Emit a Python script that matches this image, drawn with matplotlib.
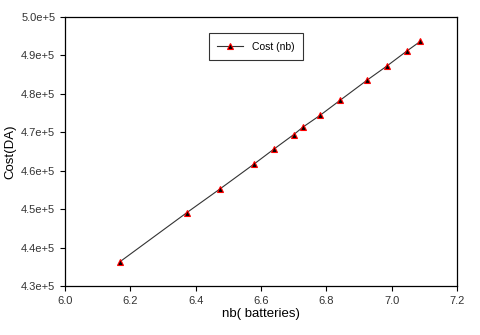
import matplotlib
matplotlib.use("Agg")
import matplotlib.pyplot as plt
from matplotlib.ticker import FuncFormatter

# values
nb = [6.168, 6.373, 6.475, 6.578, 6.639, 6.700, 6.729, 6.782, 6.843, 6.925, 6.986, 7.047, 7.088]
cost = [436300, 449100, 455300, 461700, 465600, 469400, 471400, 474500, 478400, 483600, 487300, 491200, 493700]

xticks = [6.0, 6.2, 6.4, 6.6, 6.8, 7.0, 7.2]
yticks = [430000, 440000, 450000, 460000, 470000, 480000, 490000, 500000]

plt.rcParams["font.family"] = ["Liberation Sans", "DejaVu Sans"]

fig = plt.figure(figsize=(4.8, 3.35), dpi=100)
ax = fig.add_axes([0.1354, 0.1463, 0.8167, 0.8027])

ax.plot(nb, cost, color="#333333", lw=0.8, marker="^", markersize=5,
        markerfacecolor="black", markeredgecolor="red", markeredgewidth=0.8,
        label="Cost (nb)")

ax.set_xlim(6.0, 7.2)
ax.set_ylim(430000, 500000)
ax.set_xticks(xticks)
ax.set_yticks(yticks)
ax.xaxis.set_major_formatter(FuncFormatter(lambda v, p: f"{v:.1f}"))
ax.yaxis.set_major_formatter(FuncFormatter(lambda v, p: f"{v / 1e5:.1f}e+5"))
ax.tick_params(direction="out", length=3.5, width=0.8, labelsize=8,
               colors="black", labelcolor="#333333", top=False, right=False)
for s in ax.spines.values():
    s.set_linewidth(0.9)

ax.set_xlabel("nb( batteries)", fontsize=9.5, labelpad=2)
ax.set_ylabel("Cost(DA)", fontsize=9.5, labelpad=3)

leg = ax.legend(loc="upper left", bbox_to_anchor=(0.367, 0.94), borderaxespad=0,
                fontsize=7.5, frameon=True, fancybox=False, shadow=False,
                handlelength=2.5, borderpad=0.8, markerscale=0.9)
leg.get_frame().set_edgecolor("black")
leg.get_frame().set_linewidth(0.8)

fig.savefig("out.png", dpi=100)
plt.close(fig)
